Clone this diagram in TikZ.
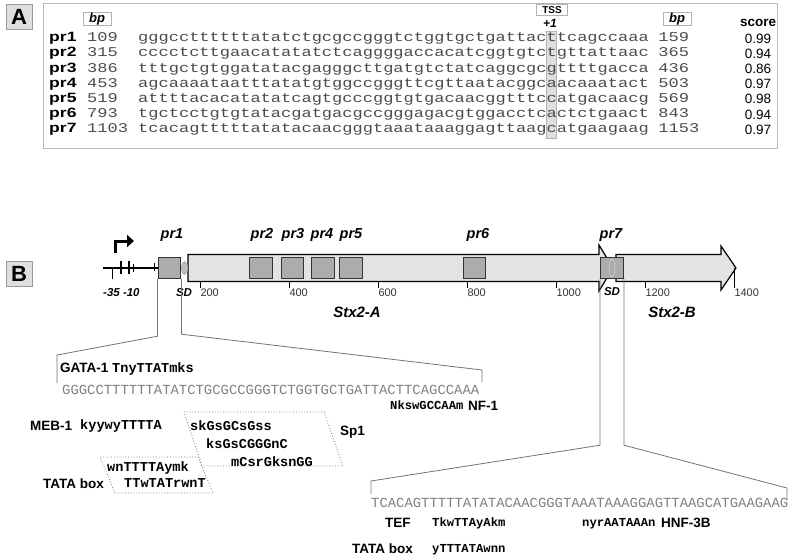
\documentclass[tikz,border=0pt]{standalone}
\usepackage{fontspec}
\setmainfont{Liberation Sans}
\setmonofont{Liberation Mono}
\newfontfamily\seqfont[FakeStretch=1.27]{Liberation Mono}
\newfontfamily\rowfont[FakeStretch=1.3]{Liberation Sans}
\usetikzlibrary{shapes.geometric, arrows.meta}

\newcommand{\fsize}[1]{\fontsize{#1}{#1}\selectfont}

\begin{document}
\begin{tikzpicture}[
        x=1pt, y=-1pt,
        tag/.style={rectangle, draw=gray!80, fill=gray!25, minimum width=26pt, minimum height=25pt, inner sep=0, font=\fsize{22}\bfseries},
        panel/.style={draw=gray!55, line width=0.9pt},
        hdrbox/.style={rectangle, draw=gray!60, line width=0.6pt, minimum width=28pt, minimum height=13pt, inner sep=0, font=\fsize{13}\bfseries\itshape},
        tssbox/.style={rectangle, draw=gray!60, line width=0.6pt, minimum width=31pt, minimum height=11pt, inner sep=0, font=\fsize{10}\bfseries},
        tsscol/.style={fill=gray!25, draw=gray!60, line width=0.6pt},
        rowlabel/.style={anchor=west, inner sep=0, text height=10.5pt, text depth=3pt, font=\rowfont\fsize{13.5}\bfseries},
        seqA/.style={anchor=west, inner sep=0, text height=10.5pt, text depth=3pt, text=black!70, font=\seqfont\fsize{13.4}},
        score/.style={inner sep=0, text height=10pt, text depth=0pt, font=\fsize{13.5}},
        genebar/.style={fill=gray!22, draw=black, line width=1.2pt},
        prbox/.style={rectangle, draw=black!80, fill=gray!65, line width=1.4pt, minimum width=22.5pt, minimum height=21pt, inner sep=0},
        sdmark/.style={ellipse, draw=gray!70, fill=gray!50, line width=0.6pt, minimum width=6pt, minimum height=13pt, inner sep=0},
        prlabel/.style={inner sep=0, font=\fsize{14.5}\bfseries\itshape},
        genelabel/.style={inner sep=0, font=\fsize{15}\bfseries\itshape},
        smalllabel/.style={inner sep=0, font=\fsize{11.5}\bfseries\itshape},
        ruler/.style={line width=1pt},
        ticklabel/.style={anchor=north west, inner sep=0, text=black!80, font=\fsize{11}},
        promoter/.style={line width=3pt, -{Triangle[length=7pt, width=12pt]}},
        proj/.style={draw=black!55, line width=0.8pt},
        seqB/.style={anchor=west, inner sep=0, text height=10pt, text depth=0pt, text=black!50, font=\fsize{13.9}\ttfamily},
        factor/.style={anchor=west, inner sep=0, text height=10pt, text depth=0pt, font=\fsize{13.5}\bfseries},
        motif/.style={anchor=west, inner sep=0, text height=9.5pt, text depth=0pt, font=\fsize{13.6}\ttfamily\bfseries},
        motifsm/.style={motif, font=\fsize{12.2}\ttfamily\bfseries},
        sitebox/.style={draw=black!55, dotted, line width=0.8pt}
    ]
        \useasboundingbox (0,0) rectangle (791,558);

        % Panel A: aligned promoter sequences
        \node[tag] (tag_A) at (19,17) {A};
        \draw[panel] (43,3) rectangle (777,148);
        \filldraw[tsscol] (546,31) rectangle (556.2,138);

        \node[hdrbox] (hdr_bp1) at (97,19) {bp};
        \node[tssbox] (hdr_tss) at (552,10) {TSS};
        \node[inner sep=0, text height=8.5pt, text depth=0pt, font=\fsize{12}\bfseries\itshape] (hdr_plus1) at (550,23) {+1};
        \node[hdrbox] (hdr_bp2) at (677,19) {bp};
        \node[score, font=\fsize{13.5}\bfseries] (hdr_score) at (758,21) {score};

        \node[rowlabel] (pr1_label) at (49,38) {pr1};
        \node[seqA] (pr1_start) at (87,38) {109};
        \node[seqA] (pr1_seq) at (138,38) {gggccttttttatatctgcgccgggtctggtgctgattacttcagccaaa};
        \node[seqA] (pr1_end) at (658.2,38) {159};
        \node[score] (pr1_score) at (758,38) {0.99};

        \node[rowlabel] (pr2_label) at (49,53.2) {pr2};
        \node[seqA] (pr2_start) at (87,53.2) {315};
        \node[seqA] (pr2_seq) at (138,53.2) {cccctcttgaacatatatctcaggggaccacatcggtgtctgttattaac};
        \node[seqA] (pr2_end) at (658.2,53.2) {365};
        \node[score] (pr2_score) at (758,53.2) {0.94};

        \node[rowlabel] (pr3_label) at (49,68.4) {pr3};
        \node[seqA] (pr3_start) at (87,68.4) {386};
        \node[seqA] (pr3_seq) at (138,68.4) {tttgctgtggatatacgagggcttgatgtctatcaggcgcgttttgacca};
        \node[seqA] (pr3_end) at (658.2,68.4) {436};
        \node[score] (pr3_score) at (758,68.4) {0.86};

        \node[rowlabel] (pr4_label) at (49,83.6) {pr4};
        \node[seqA] (pr4_start) at (87,83.6) {453};
        \node[seqA] (pr4_seq) at (138,83.6) {agcaaaataatttatatgtggccgggttcgttaatacggcaacaaatact};
        \node[seqA] (pr4_end) at (658.2,83.6) {503};
        \node[score] (pr4_score) at (758,83.6) {0.97};

        \node[rowlabel] (pr5_label) at (49,98.8) {pr5};
        \node[seqA] (pr5_start) at (87,98.8) {519};
        \node[seqA] (pr5_seq) at (138,98.8) {attttacacatatatcagtgcccggtgtgacaacggtttccatgacaacg};
        \node[seqA] (pr5_end) at (658.2,98.8) {569};
        \node[score] (pr5_score) at (758,98.8) {0.98};

        \node[rowlabel] (pr6_label) at (49,114) {pr6};
        \node[seqA] (pr6_start) at (87,114) {793};
        \node[seqA] (pr6_seq) at (138,114) {tgctcctgtgtatacgatgacgccgggagacgtggacctcactctgaact};
        \node[seqA] (pr6_end) at (658.2,114) {843};
        \node[score] (pr6_score) at (758,114) {0.94};

        \node[rowlabel] (pr7_label) at (49,129.2) {pr7};
        \node[seqA] (pr7_start) at (87,129.2) {1103};
        \node[seqA] (pr7_seq) at (138,129.2) {tcacagtttttatatacaacgggtaaataaaggagttaagcatgaagaag};
        \node[seqA] (pr7_end) at (658.2,129.2) {1153};
        \node[score] (pr7_score) at (758,129.2) {0.97};

        % Panel B: map of the Stx2 operon
        \node[tag] (tag_B) at (19,274) {B};

        \draw[line width=1.2pt] (103,268) -- (158,268);
        \draw[line width=2.5pt] (121,261) -- (121,274);
        \draw[line width=2.5pt] (129,261) -- (129,274);
        \draw[line width=1pt] (112,268) -- (112,279);
        \draw[line width=1pt] (133,264) -- (133,272);
        \draw[line width=1pt] (154,263) -- (154,271);
        \draw[promoter] (115,253) |- (134,241);
        \node[smalllabel, anchor=west] (minus_box) at (103,293) {-35 -10};

        \filldraw[genebar] (188,254.5) -- (599,254.5) -- (599,245) -- (613,268) -- (599,291) -- (599,281.5) -- (188,281.5) -- cycle;
        \filldraw[genebar] (616,254.5) -- (721,254.5) -- (721,246) -- (736,268) -- (721,290) -- (721,281.5) -- (616,281.5) -- cycle;

        \node[prbox] (box_pr1) at (169.5,268) {};
        \node[sdmark] (sd_pr1) at (184.5,268) {};
        \node[prbox] (box_pr2) at (261,268) {};
        \node[prbox] (box_pr3) at (292.5,268) {};
        \node[prbox] (box_pr4) at (323,268) {};
        \node[prbox] (box_pr5) at (351,268) {};
        \node[prbox] (box_pr6) at (474.5,268) {};
        \node[prbox] (box_pr7) at (612,268) {};
        \node[sdmark, fill=none, draw=gray!35, minimum height=17pt] (sd_pr7) at (612,268) {};

        \node[prlabel] (lab_pr1) at (172,235) {pr1};
        \node[prlabel] (lab_pr2) at (262,235) {pr2};
        \node[prlabel] (lab_pr3) at (293,235) {pr3};
        \node[prlabel] (lab_pr4) at (322,235) {pr4};
        \node[prlabel] (lab_pr5) at (351,235) {pr5};
        \node[prlabel] (lab_pr6) at (478,235) {pr6};
        \node[prlabel] (lab_pr7) at (611,235) {pr7};
        \node[smalllabel] (lab_sd1) at (184,293) {SD};
        \node[smalllabel] (lab_sd7) at (612,292) {SD};

        % ruler
        \draw[ruler] (200,281.5) -- (200,288) node[ticklabel] {200};
        \draw[ruler] (289,281.5) -- (289,288) node[ticklabel] {400};
        \draw[ruler] (378,281.5) -- (378,288) node[ticklabel] {600};
        \draw[ruler] (467,281.5) -- (467,288) node[ticklabel] {800};
        \draw[ruler] (556,281.5) -- (556,288) node[ticklabel] {1000};
        \draw[ruler] (645,281.5) -- (645,288) node[ticklabel] {1200};
        \draw[ruler] (734,268) -- (734,288) node[ticklabel] {1400};

        \node[genelabel] (gene_A) at (357,312) {Stx2-A};
        \node[genelabel] (gene_B) at (672,312) {Stx2-B};

        % pr1 close-up
        \node[seqB] (seqB_pr1) at (62,389) {GGGCCTTTTTTATATCTGCGCCGGGTCTGGTGCTGATTACTTCAGCCAAA};
        \coordinate (pr1_fanL) at (57,355);
        \coordinate (pr1_endL) at (57,383);
        \coordinate (pr1_fanR) at (482,370);
        \coordinate (pr1_endR) at (482,382);
        \draw[proj] (box_pr1.south west) -- ++(0,57) -- (pr1_fanL) -- (pr1_endL);
        \draw[proj] (box_pr1.south east) -- ++(0,55) -- (pr1_fanR) -- (pr1_endR);

        \node[factor] (f_gata) at (60,367) {GATA-1};
        \node[motif] (m_gata) at (112,368) {TnyTTATmks};
        \node[motifsm] (m_nf1) at (390,405) {NkswGCCAAm};
        \node[factor] (f_nf1) at (468,405) {NF-1};
        \node[factor] (f_meb) at (30,425) {MEB-1};
        \node[motif] (m_meb) at (80,425) {kyywyTTTTA};

        \draw[sitebox] (184,412) -- (324,412) -- (343,466) -- (202,466) -- cycle;
        \node[motif] (m_sp1a) at (190,426) {skGsGCsGss};
        \node[motif] (m_sp1b) at (206,444) {ksGsCGGGnC};
        \node[motif] (m_sp1c) at (231,462) {mCsrGksnGG};
        \node[factor] (f_sp1) at (340,430) {Sp1};

        \draw[sitebox] (100,457) -- (198,457) -- (213,493) -- (115,493) -- cycle;
        \node[motif] (m_tata1) at (107,467) {wnTTTTAymk};
        \node[motif] (m_tata2) at (124,483) {TTwTATrwnT};
        \node[factor] (f_tata1) at (43,483) {TATA box};

        % pr7 close-up
        \node[seqB] (seqB_pr7) at (371,502) {TCACAGTTTTTATATACAACGGGTAAATAAAGGAGTTAAGCATGAAGAAG};
        \coordinate (pr7_fanL) at (371,481);
        \coordinate (pr7_endL) at (371,494);
        \coordinate (pr7_fanR) at (787,488);
        \coordinate (pr7_endR) at (787,500);
        \draw[proj] (box_pr7.south west) -- ++(0,166) -- (pr7_fanL) -- (pr7_endL);
        \draw[proj] (box_pr7.south east) -- ++(0,166) -- (pr7_fanR) -- (pr7_endR);

        \node[factor] (f_tef) at (385,522) {TEF};
        \node[motifsm] (m_tef) at (432,522) {TkwTTAyAkm};
        \node[motifsm] (m_hnf) at (582,522) {nyrAATAAAn};
        \node[factor] (f_hnf) at (661,522) {HNF-3B};
        \node[factor] (f_tata2) at (352,548) {TATA box};
        \node[motifsm] (m_tata3) at (432,548) {yTTTATAwnn};

    \end{tikzpicture}
\end{document}
